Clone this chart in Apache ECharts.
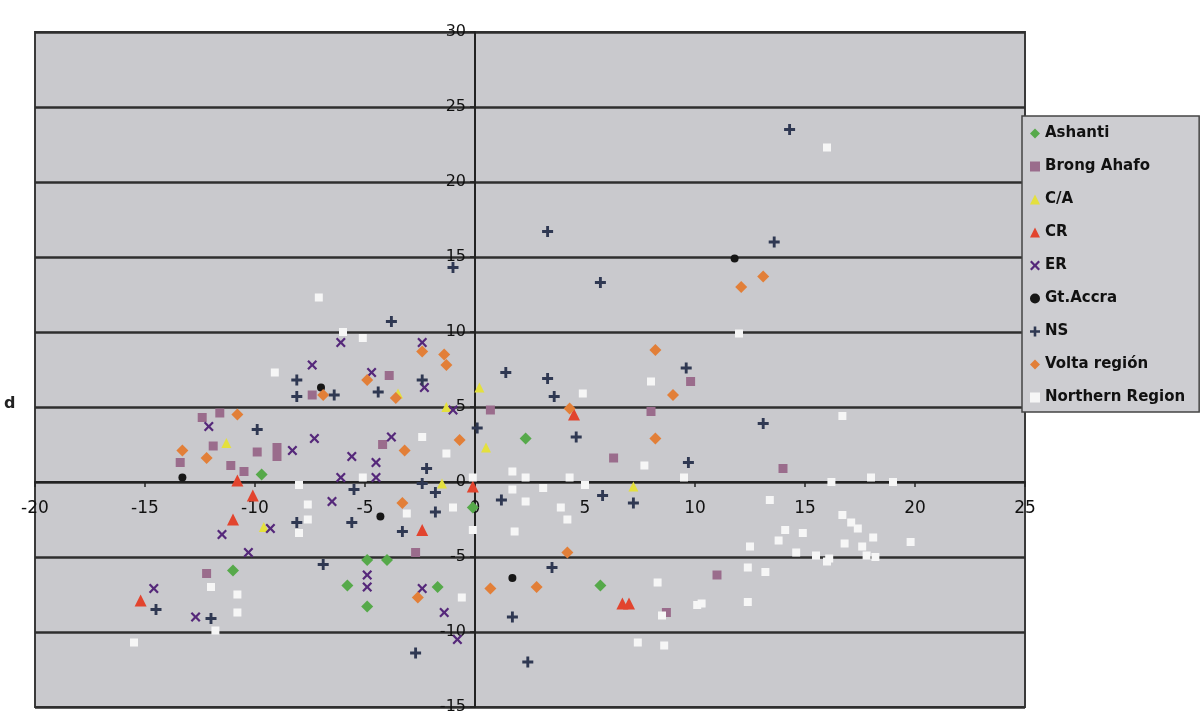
<!DOCTYPE html>
<html>
<head>
<meta charset="utf-8">
<script src="https://cdn.jsdelivr.net/npm/echarts@6/dist/echarts.min.js"></script>
<style>
  html, body { margin: 0; padding: 0; background: #ffffff; }
  #chart { width: 1200px; height: 716px; }
</style>
</head>
<body>
<div id="chart"></div>
<script>
// series names in legend order
const seriesNames = ['Ashanti', 'Brong Ahafo', 'C/A', 'CR', 'ER', 'Gt.Accra', 'NS', 'Volta región', 'Northern Region']

// axis tick labels
const xTicks = [-20, -15, -10, -5, 0, 5, 10, 15, 20, 25]
const yTicks = [-15, -10, -5, 0, 5, 10, 15, 20, 25, 30]

// [x, y] points
const ashanti = [
  [-9.7, 0.5], [-11.0, -5.9], [-4.9, -5.2], [-4.0, -5.2], [-5.8, -6.9], [-4.9, -8.3],
  [-1.7, -7.0], [-0.1, -1.7], [2.3, 2.9], [5.7, -6.9]
]
const brongAhafo = [
  [-12.4, 4.3], [-11.6, 4.6], [-11.9, 2.4], [-13.4, 1.3], [-9.9, 2.0], [-9.0, 2.3],
  [-9.0, 1.7], [-11.1, 1.1], [-10.5, 0.7], [-12.2, -6.1], [-3.9, 7.1], [-4.2, 2.5],
  [-7.4, 5.8], [0.7, 4.8], [6.3, 1.6], [8.0, 4.7], [9.8, 6.7], [8.7, -8.7],
  [11.0, -6.2], [14.0, 0.9], [-2.7, -4.7]
]
const ca = [
  [0.2, 6.3], [0.5, 2.3], [-3.5, 5.9], [-9.6, -3.0], [-1.3, 5.0], [-1.5, -0.1],
  [-11.3, 2.6], [7.2, -0.3]
]
const cr = [
  [-10.8, 0.1], [-10.1, -0.9], [-11.0, -2.5], [-2.4, -3.2], [-15.2, -7.9], [4.5, 4.5],
  [6.7, -8.1], [7.0, -8.1], [-0.1, -0.3]
]
const er = [
  [-6.1, 9.3], [-7.4, 7.8], [-4.7, 7.3], [-2.4, 9.3], [-2.3, 6.3], [-1.0, 4.8],
  [-12.1, 3.7], [-7.3, 2.9], [-8.3, 2.1], [-3.8, 3.0], [-5.6, 1.7], [-4.5, 1.3],
  [-6.1, 0.3], [-4.5, 0.3], [-6.5, -1.3], [-9.3, -3.1], [-11.5, -3.5], [-10.3, -4.7],
  [-14.6, -7.1], [-12.7, -9.0], [-4.9, -6.2], [-4.9, -7.0], [-2.4, -7.1], [-1.4, -8.7],
  [-0.8, -10.5]
]
const gtAccra = [
  [11.8, 14.9], [1.7, -6.4], [-13.3, 0.3], [-4.3, -2.3], [-7.0, 6.3]
]
const ns = [
  [14.3, 23.5], [3.3, 16.7], [5.7, 13.3], [13.6, 16.0], [-1.0, 14.3], [-3.8, 10.7],
  [-8.1, 6.8], [-8.1, 5.7], [-6.4, 5.8], [-4.4, 6.0], [-2.4, 6.8], [0.1, 3.6],
  [-9.9, 3.5], [-2.2, 0.9], [-2.4, -0.1], [-5.5, -0.5], [-1.8, -0.7], [-1.8, -2.0],
  [-8.1, -2.7], [-5.6, -2.7], [-3.3, -3.3], [-6.9, -5.5], [-14.5, -8.5], [-12.0, -9.1],
  [-2.7, -11.4], [1.4, 7.3], [3.3, 6.9], [3.6, 5.7], [4.6, 3.0], [9.7, 1.3],
  [9.6, 7.6], [1.2, -1.2], [3.5, -5.7], [1.7, -9.0], [2.4, -12.0], [13.1, 3.9],
  [5.8, -0.9], [7.2, -1.4]
]
const volta = [
  [13.1, 13.7], [12.1, 13.0], [8.2, 8.8], [9.0, 5.8], [8.2, 2.9], [4.3, 4.9],
  [4.2, -4.7], [0.7, -7.1], [2.8, -7.0], [-2.4, 8.7], [-1.4, 8.5], [-1.3, 7.8],
  [-4.9, 6.8], [-3.6, 5.6], [-6.9, 5.8], [-3.2, 2.1], [-0.7, 2.8], [-13.3, 2.1],
  [-12.2, 1.6], [-10.8, 4.5], [-3.3, -1.4], [-2.6, -7.7]
]
const northern = [
  [16.0, 22.3], [12.0, 9.9], [-7.1, 12.3], [-5.1, 9.6], [-6.0, 10.0], [-9.1, 7.3],
  [-2.4, 3.0], [-8.0, -0.2], [-5.1, 0.3], [-7.6, -1.5], [-7.6, -2.5], [-8.0, -3.4],
  [-12.0, -7.0], [-10.8, -7.5], [-10.8, -8.7], [-11.8, -9.9], [-15.5, -10.7], [-0.6, -7.7],
  [-1.0, -1.7], [-1.3, 1.9], [-3.1, -2.1], [8.0, 6.7], [4.9, 5.9], [7.7, 1.1],
  [1.7, 0.7], [2.3, 0.3], [1.7, -0.5], [2.3, -1.3], [3.1, -0.4], [3.9, -1.7],
  [4.2, -2.5], [1.8, -3.3], [4.3, 0.3], [5.0, -0.2], [9.5, 0.3], [8.3, -6.7],
  [10.1, -8.2], [8.5, -8.9], [7.4, -10.7], [8.6, -10.9], [-0.1, 0.3], [-0.1, -3.2],
  [16.7, 4.4], [16.2, 0.0], [18.0, 0.3], [19.0, 0.0], [13.4, -1.2], [16.7, -2.2],
  [17.1, -2.7], [17.4, -3.1], [18.1, -3.7], [19.8, -4.0], [14.1, -3.2], [14.9, -3.4],
  [13.8, -3.9], [12.5, -4.3], [16.8, -4.1], [17.6, -4.3], [14.6, -4.7], [15.5, -4.9],
  [16.1, -5.1], [16.0, -5.3], [17.8, -4.9], [18.2, -5.0], [12.4, -5.7], [13.2, -6.0],
  [12.4, -8.0], [10.3, -8.1]
]

const seriesData = [ashanti, brongAhafo, ca, cr, er, gtAccra, ns, volta, northern]

// marker look for each series
const crossPath = 'path://M0,1.6L1.6,0L5,3.4L8.4,0L10,1.6L6.6,5L10,8.4L8.4,10L5,6.6L1.6,10L0,8.4L3.4,5Z'
const plusPath = 'path://M3.7,0H6.3V3.7H10V6.3H6.3V10H3.7V6.3H0V3.7H3.7Z'
const markers = [
  { symbol: 'diamond', size: 12, color: '#56a94a' },
  { symbol: 'rect', size: 9, color: '#9a6c8c' },
  { symbol: 'triangle', size: 10, color: '#e4e03e' },
  { symbol: 'triangle', size: 12, color: '#e2442e' },
  { symbol: crossPath, size: 10, color: '#55287a' },
  { symbol: 'circle', size: 8, color: '#161616' },
  { symbol: plusPath, size: 11, color: '#2f3852' },
  { symbol: 'diamond', size: 12, color: '#e27f38' },
  { symbol: 'rect', size: 8, color: '#f6f6f6' }
]

const chart = echarts.init(document.getElementById('chart'))

const labelFont = 'DejaVu Sans'

// plot box in pixels; axes cross at (0, 0), which sits 440px from the left
// edge and 225px above the bottom edge of the box
const gridBox = { left: 35, right: 175, top: 32, bottom: 9 }

const option = {
  animation: false,
  backgroundColor: '#ffffff',
  grid: {
    show: true,
    left: gridBox.left,
    right: gridBox.right,
    top: gridBox.top,
    bottom: gridBox.bottom,
    outerBoundsMode: 'none',
    containLabel: false,
    backgroundColor: '#c9c9cd',
    borderColor: '#3a3a3a',
    borderWidth: 2
  },
  legend: {
    orient: 'vertical',
    left: 1022,
    top: 116,
    padding: [10, 14, 7, 8],
    itemWidth: 10,
    itemHeight: 10,
    itemGap: 18,
    backgroundColor: '#cdcdd1',
    borderColor: '#444444',
    borderWidth: 1.5,
    borderRadius: 0,
    data: seriesNames,
    textStyle: {
      fontFamily: labelFont,
      fontWeight: 'bold',
      fontSize: 15,
      lineHeight: 14,
      color: '#111111'
    }
  },
  xAxis: {
    type: 'value',
    min: xTicks[0],
    max: xTicks[xTicks.length - 1],
    interval: 5,
    position: 'bottom',
    offset: -225,
    axisLine: { show: true, onZero: false, lineStyle: { color: '#222222', width: 2 } },
    axisTick: { show: true, length: 5, lineStyle: { color: '#222222', width: 1.5 } },
    splitLine: { show: false },
    axisLabel: {
      margin: 18,
      fontFamily: labelFont,
      fontSize: 17,
      color: '#111111',
      showMinLabel: true,
      showMaxLabel: true
    }
  },
  yAxis: {
    type: 'value',
    min: yTicks[0],
    max: yTicks[yTicks.length - 1],
    interval: 5,
    position: 'left',
    offset: -440,
    axisLine: { show: true, onZero: false, lineStyle: { color: '#222222', width: 2 } },
    axisTick: { show: true, length: 5, lineStyle: { color: '#222222', width: 1.5 } },
    splitLine: { show: true, lineStyle: { color: '#2e2e2e', width: 2.5 } },
    axisLabel: {
      margin: 9,
      fontFamily: labelFont,
      fontSize: 16,
      color: '#111111',
      showMinLabel: true,
      showMaxLabel: true
    }
  },
  graphic: [
    {
      type: 'text',
      left: 4,
      top: 396,
      style: { text: 'd', font: 'bold 16px DejaVu Sans', fill: '#222222' }
    }
  ],
  series: seriesNames.map((name, i) => ({
    name: name,
    type: 'scatter',
    data: seriesData[i],
    symbol: markers[i].symbol,
    symbolSize: markers[i].size,
    itemStyle: { color: markers[i].color, opacity: 1 }
  }))
}

chart.setOption(option)
</script>
</body>
</html>
